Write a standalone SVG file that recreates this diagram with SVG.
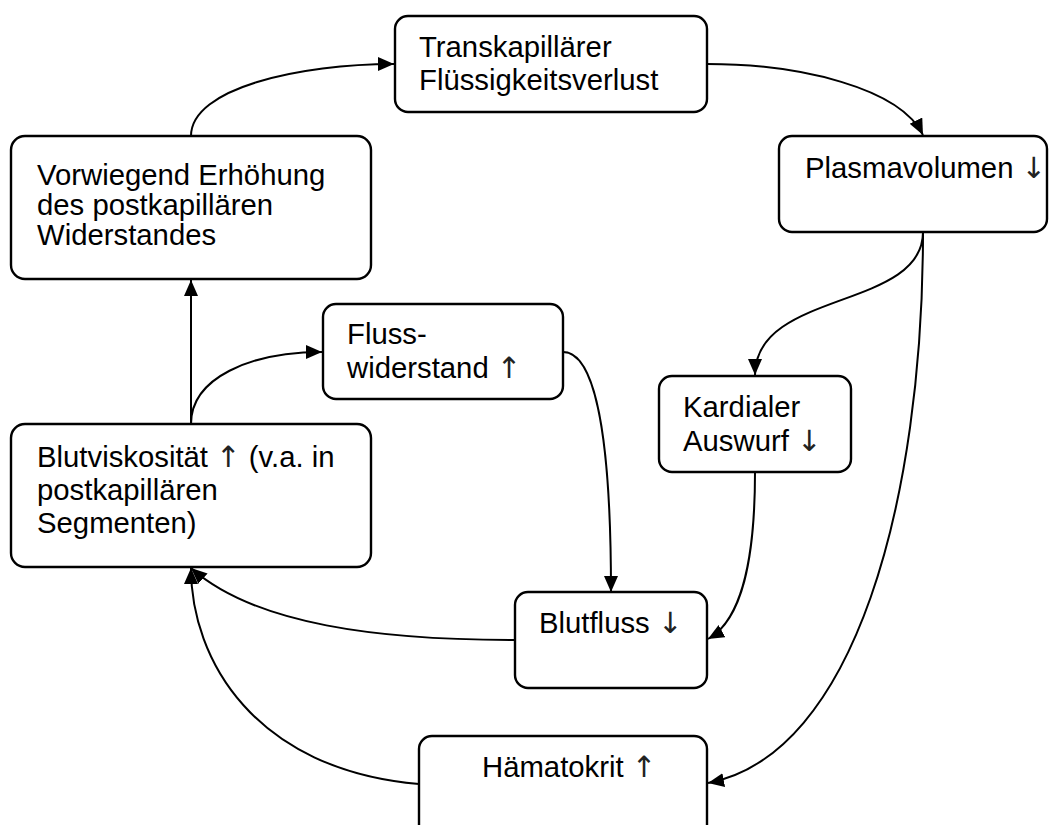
<svg xmlns="http://www.w3.org/2000/svg" width="1058" height="825" viewBox="0 0 1058 825">
<style>
.box{fill:#fff;stroke:#000;stroke-width:2.4}
.t{font-family:"Liberation Sans",Arial,sans-serif;font-size:29.3px;fill:#000}
.ar{font-family:"DejaVu Sans",sans-serif;fill:#222}
.c{fill:none;stroke:#000;stroke-width:2}
</style>
<defs>
<marker id="ah" markerUnits="userSpaceOnUse" markerWidth="17" markerHeight="15" refX="16" refY="7" orient="auto">
<path d="M0,0 L16,7 L0,14 z" fill="#000"/>
</marker>
</defs>
<rect width="1058" height="825" fill="#fff"/>
<g id="connectors">
<path class="c" d="M191,136 C191,88 300,64 394,64" marker-end="url(#ah)"/>
<path class="c" d="M707,64 C800,64 900,88 923,135" marker-end="url(#ah)"/>
<path class="c" d="M923,232 C923,310 755,290 755,375" marker-end="url(#ah)"/>
<path class="c" d="M923,232 C923,500 855,755 708,783" marker-end="url(#ah)"/>
<path class="c" d="M755,472 C755,560 742,620 708,639" marker-end="url(#ah)"/>
<path class="c" d="M563,352 C592,352 611,420 611,592" marker-end="url(#ah)"/>
<path class="c" d="M515,640 C380,640 255,625 191,568" marker-end="url(#ah)"/>
<path class="c" d="M419,784 C255,770 191,660 191,568" marker-end="url(#ah)"/>
<path class="c" d="M191,424 L191,280" marker-end="url(#ah)"/>
<path class="c" d="M191,424 C191,378 250,352 322,352" marker-end="url(#ah)"/>
</g>
<g id="transkapillaer">
<rect class="box" x="395" y="16" width="312" height="96" rx="13"/>
<text class="t" x="419" y="57">Transkapillärer</text>
<text class="t" x="419" y="90">Flüssigkeitsverlust</text>
</g>
<g id="plasmavolumen">
<rect class="box" x="779" y="136" width="268" height="96" rx="13"/>
<text class="t" x="805" y="178">Plasmavolumen <tspan class="ar">↓</tspan></text>
</g>
<g id="vorwiegend">
<rect class="box" x="11" y="136" width="360" height="143" rx="14"/>
<text class="t" x="37" y="185">Vorwiegend Erhöhung</text>
<text class="t" x="37" y="215">des postkapillären</text>
<text class="t" x="37" y="245">Widerstandes</text>
</g>
<g id="flusswiderstand">
<rect class="box" x="323" y="304" width="240" height="95" rx="13"/>
<text class="t" x="347" y="344">Fluss-</text>
<text class="t" x="347" y="378">widerstand <tspan class="ar">↑</tspan></text>
</g>
<g id="kardialer">
<rect class="box" x="659" y="376" width="192" height="96" rx="13"/>
<text class="t" x="683" y="417">Kardialer</text>
<text class="t" x="683" y="451">Auswurf <tspan class="ar">↓</tspan></text>
</g>
<g id="blutviskositaet">
<rect class="box" x="11" y="424" width="360" height="143" rx="14"/>
<text class="t" x="37" y="467">Blutviskosität <tspan class="ar">↑</tspan> (v.a. in</text>
<text class="t" x="37" y="500">postkapillären</text>
<text class="t" x="37" y="533">Segmenten)</text>
</g>
<g id="blutfluss">
<rect class="box" x="515" y="592" width="192" height="96" rx="13"/>
<text class="t" x="539" y="633">Blutfluss <tspan class="ar">↓</tspan></text>
</g>
<g id="haematokrit">
<rect class="box" x="419" y="736" width="288" height="110" rx="13"/>
<text class="t" x="482" y="777">Hämatokrit <tspan class="ar">↑</tspan></text>
</g>
</svg>
